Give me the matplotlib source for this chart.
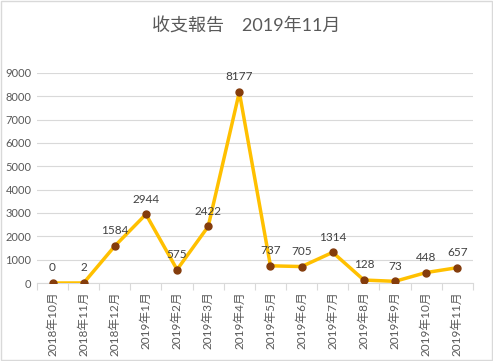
import numpy as np
import matplotlib.pyplot as plt

plt.rcParams['font.family'] = ['Lato', 'Noto Sans CJK SC', 'DejaVu Sans']

# data
months = ["2018年10月", "2018年11月", "2018年12月", "2019年1月", "2019年2月",
          "2019年3月", "2019年4月", "2019年5月", "2019年6月", "2019年7月",
          "2019年8月", "2019年9月", "2019年10月", "2019年11月"]
values = [0, 2, 1584, 2944, 575, 2422, 8177, 737, 705, 1314, 128, 73, 448, 657]
yticks = [0, 1000, 2000, 3000, 4000, 5000, 6000, 7000, 8000, 9000]

gray = "#595959"
fig = plt.figure(figsize=(4.93, 3.61), dpi=100)
ax = fig.add_axes([0.075, 0.216, 0.884, 0.582])

x = np.arange(len(values))
ax.plot(x, values, color="#FFC000", lw=2.5, zorder=3,
        marker="o", ms=5, mfc="#843C0C", mec="#843C0C")
for xi, v in zip(x, values):
    ax.annotate(str(v), (xi, v), xytext=(0, 7), textcoords="offset points",
                ha="center", va="bottom", fontsize=8.5, color="#404040")

ax.set_xlim(-0.5, len(values) - 0.5)
ax.set_ylim(0, 9000)
ax.set_yticks(yticks)
ax.set_yticklabels([str(t) for t in yticks], fontsize=8, color=gray)
ax.set_xticks(x)
ax.set_xticklabels(months, rotation=90, fontsize=8.5, color=gray)
ax.tick_params(axis="x", length=0, pad=6)
ax.tick_params(axis="y", length=0, pad=4)
ax.set_xticks(np.arange(-0.5, len(values)), minor=True)
ax.tick_params(axis="x", which="minor", length=5, color="#d9d9d9", width=0.8)
ax.grid(axis="y", color="#d9d9d9", lw=0.8)
ax.set_axisbelow(True)
for s in ["top", "right", "left"]:
    ax.spines[s].set_visible(False)
ax.spines["bottom"].set_color("#d9d9d9")

fig.text(0.5, 0.929, "收支報告　2019年11月", ha="center", va="center",
         fontsize=13, color=gray)
fig.patches.append(plt.Rectangle((0.002, 0.002), 0.996, 0.996, transform=fig.transFigure,
                                 fill=False, ec="#d9d9d9", lw=1))
fig.savefig("out.png", dpi=100)
